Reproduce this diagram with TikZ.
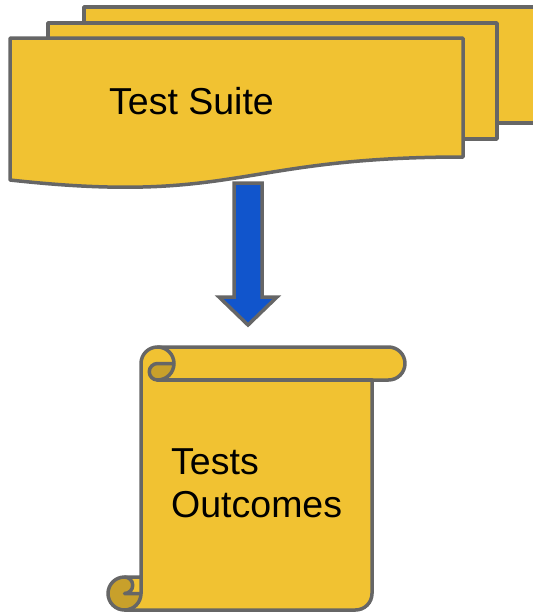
\documentclass[tikz,border=0pt]{standalone}
\usepackage{fontspec}
\setmainfont{Liberation Sans}
\definecolor{paper}{HTML}{F1C232}
\definecolor{paperdark}{HTML}{C8A02B}
\definecolor{edge}{HTML}{666666}
\definecolor{flow}{HTML}{1155CC}
\tikzset{
  sheet/.style={fill=paper, draw=edge, line width=3.5pt, line join=round},
  curl/.style={fill=paperdark},
  outline/.style={draw=edge, line width=3.5pt, line join=round, line cap=round},
  label/.style={inner sep=0pt, font=\fontsize{37.5}{43}\selectfont, text=black},
}
\begin{document}
\begin{tikzpicture}[x=1pt, y=-1pt]
  \useasboundingbox (0,0) rectangle (533,614);
  \clip (0,0) rectangle (533,614);

  % stacked pages of the test suite
  \path[sheet] (84,7) -- (560,7) -- (560,123) -- (84,123) -- cycle;
  \path[sheet] (48,23) -- (497,23) -- (497,139) -- (48,139) -- cycle;
  \path[sheet] (10,38) -- (463,38) -- (463,157)
     .. controls (236.5,157) and (236.5,205) .. (10,180) -- cycle;
  \node[label, anchor=base west] (suite) at (109,114) {Test Suite};

  % downward block arrow
  \coordinate (arrowtop) at (248,183);
  \coordinate (arrowtip) at (248,325);
  \path[fill=flow, draw=edge, line width=3.5pt, line join=miter]
    (arrowtop) ++(-14,0) -- ++(28,0) -- (262,297) -- (277,297)
    -- (arrowtip) -- (219,297) -- (234,297) -- cycle;

  % scroll holding the outcomes
  \path[fill=paper]
    (141,577) -- (141,363.5) arc[start angle=180, delta angle=90, radius=16.5]
    -- (388.5,347) arc[start angle=270, delta angle=180, radius=16.5]
    -- (372,380) -- (372,593.5) arc[start angle=0, delta angle=90, radius=16.5]
    -- (124.5,610) arc[start angle=90, delta angle=180, radius=16.5] -- cycle;
  \path[curl]
    (174,363.5) arc[start angle=0, delta angle=90, radius=16.5]
    arc[start angle=90, delta angle=180, radius=8.25] -- cycle;
  \path[curl]
    (141,593.5) arc[start angle=0, delta angle=270, radius=16.5]
    arc[start angle=270, delta angle=180, radius=8.25] -- cycle;
  \path[outline]
    (141,577) -- (141,363.5) arc[start angle=180, delta angle=90, radius=16.5]
    -- (388.5,347) arc[start angle=270, delta angle=180, radius=16.5]
    -- (372,380) -- (372,593.5) arc[start angle=0, delta angle=90, radius=16.5]
    -- (124.5,610) arc[start angle=90, delta angle=180, radius=16.5] -- cycle;
  \path[outline]
    (157.5,347) arc[start angle=270, delta angle=180, radius=16.5]
    arc[start angle=90, delta angle=180, radius=8.25] -- (174,363.5);
  \path[outline] (372,380) -- (157.5,380);
  \path[outline]
    (124.5,577) arc[start angle=270, delta angle=180, radius=8.25] -- (141,593.5);
  \path[outline]
    (124.5,610) arc[start angle=90, delta angle=-90, radius=16.5] -- (141,577);
  \node[label, anchor=north west, align=left] (outcomes) at (171,448) {Tests\\Outcomes};
\end{tikzpicture}
\end{document}
